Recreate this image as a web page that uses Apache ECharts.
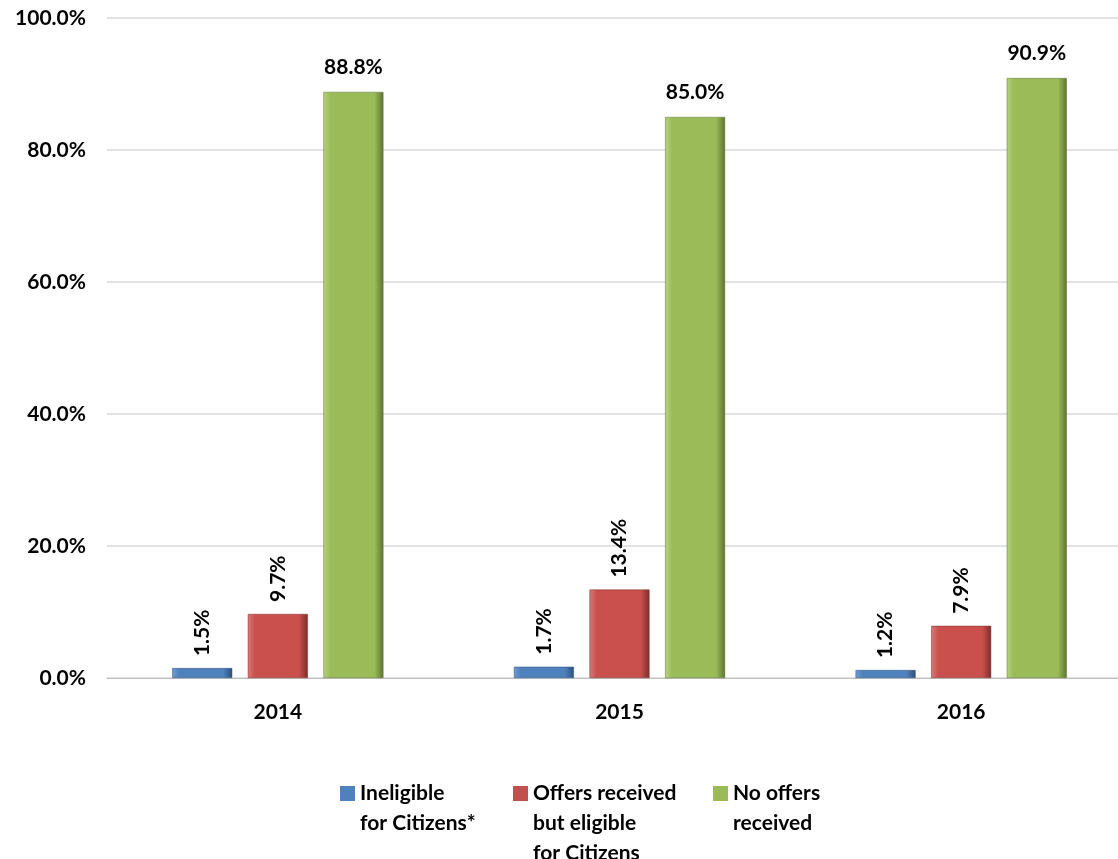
<!DOCTYPE html>
<html><head><meta charset="utf-8">
<script src="https://cdn.jsdelivr.net/npm/echarts@6/dist/echarts.min.js"></script>
<style>html,body{margin:0;padding:0;background:#fff;overflow:hidden;width:1118px;height:859px}#c{width:1132px;height:859px}</style>
</head><body><div id="c"></div>
<script>
const categories = ['2014', '2015', '2016'];
const seriesNames = ['Ineligible\nfor Citizens*', 'Offers received\nbut eligible\nfor Citizens', 'No offers\nreceived'];
const ineligible = [1.5, 1.7, 1.2];
const offersEligible = [9.7, 13.4, 7.9];
const noOffers = [88.8, 85.0, 90.9];
const yTicks = [0, 20, 40, 60, 80, 100];

const FONT = 'Lato';
const FS = 21;
const LH = 30;
function grad(light, base, dark) {
  return new echarts.graphic.LinearGradient(0, 0, 1, 0, [
    {offset: 0, color: light}, {offset: 0.12, color: base}, {offset: 0.85, color: base}, {offset: 1, color: dark}
  ]);
}
const colors = [
  grad('#6f9bd3', '#4f81bd', '#2d4f7a'),
  grad('#d97a77', '#c9504d', '#7d2e2c'),
  grad('#b6d27c', '#9bbb59', '#5d7330')
];
const legendColors = ['#4f81bd', '#c0504d', '#9bbb59'];
const legendLefts = [340, 513, 713];
const rotLabel = {
  show: true, position: 'top', rotate: 90, align: 'left', verticalAlign: 'middle', distance: 12,
  fontFamily: FONT, fontWeight: 'bold', fontSize: FS, color: '#000',
  formatter: p => p.value.toFixed(1) + '%'
};
const flatLabel = {
  show: true, position: 'top', distance: 14,
  fontFamily: FONT, fontWeight: 'bold', fontSize: FS, color: '#000',
  formatter: p => p.value.toFixed(1) + '%'
};
const legends = seriesNames.map((n, i) => {
  const h = n.split('\n').length * LH;
  return {
    top: 778, left: legendLefts[i], padding: 0,
    itemWidth: 15, itemHeight: h,
    icon: 'path://M0,0L0.01,0M0,8H15V23H0ZM0,' + h + 'L0.01,' + h,
    itemStyle: {borderWidth: 0},
    textStyle: {fontFamily: FONT, fontWeight: 'bold', fontSize: FS, color: '#000', lineHeight: LH},
    data: [{name: n, itemStyle: {color: legendColors[i], borderWidth: 0}}]
  };
});
const chart = echarts.init(document.getElementById('c'));
chart.setOption({
  animation: false,
  color: legendColors,
  grid: {left: 107, right: 0, top: 18, bottom: 181},
  legend: legends,
  xAxis: {
    type: 'category', data: categories,
    axisLine: {lineStyle: {color: '#bfbfbf', width: 1}},
    axisTick: {show: false},
    axisLabel: {fontFamily: FONT, fontWeight: 'bold', fontSize: FS, color: '#000', margin: 24}
  },
  yAxis: {
    type: 'value', min: 0, max: 100, interval: 20,
    axisLine: {show: false}, axisTick: {show: false},
    splitLine: {lineStyle: {color: '#d9d9d9', width: 1.5}},
    axisLabel: {fontFamily: FONT, fontWeight: 'bold', fontSize: FS, color: '#000', margin: 21,
      formatter: v => v.toFixed(1) + '%'}
  },
  series: [
    {name: seriesNames[0], type: 'bar', data: ineligible, barWidth: 60, barGap: '26%',
      itemStyle: {color: colors[0], borderColor: '#2d4f7a', borderWidth: 0.5}, label: rotLabel},
    {name: seriesNames[1], type: 'bar', data: offersEligible, barWidth: 60, barGap: '26%',
      itemStyle: {color: colors[1], borderColor: '#7d2e2c', borderWidth: 0.5}, label: rotLabel},
    {name: seriesNames[2], type: 'bar', data: noOffers, barWidth: 60, barGap: '26%',
      itemStyle: {color: colors[2], borderColor: '#5d7330', borderWidth: 0.5}, label: flatLabel}
  ]
});
</script></body></html>
